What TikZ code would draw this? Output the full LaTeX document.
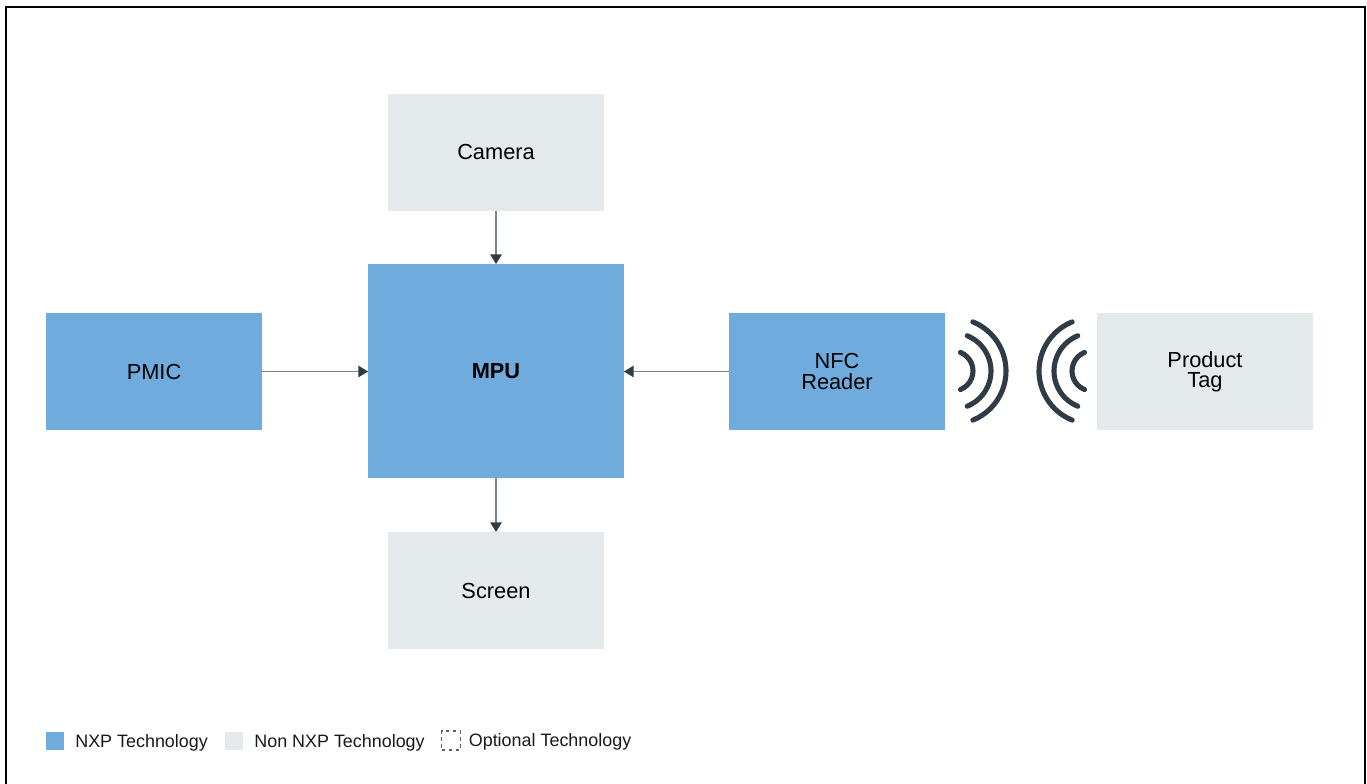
\documentclass[tikz,border=0pt]{standalone}
\usepackage{fontspec}
\setmainfont{Liberation Sans}
\usetikzlibrary{arrows.meta,positioning}
\definecolor{nxpblue}{HTML}{6FACDD}
\definecolor{nonnxp}{HTML}{E4E9EC}
\definecolor{linkgrey}{HTML}{7D858C}
\definecolor{tipgrey}{HTML}{2F3B45}
\definecolor{wavegrey}{HTML}{2F3B45}

\tikzset{
  block/.style={minimum width=4.32cm, minimum height=2.34cm, inner sep=0pt, outer sep=0pt,
    align=center, font=\fontsize{12.4}{11.4}\selectfont},
  nxp/.style={block, fill=nxpblue},
  other/.style={block, fill=nonnxp},
  link/.style={draw=linkgrey, line width=0.8pt, -{Triangle[length=5.5pt,width=6.5pt,color=tipgrey]}},
  wave/.style={draw=wavegrey, line width=2.9pt, line cap=round},
  legbox/.style={minimum width=0.36cm, minimum height=0.36cm, inner sep=0pt, outer sep=0pt},
  legtext/.style={inner sep=0pt, anchor=west, font=\fontsize{10.2}{11}\selectfont, text=black!90}
}

\begin{document}
\begin{tikzpicture}[x=0.02cm, y=-0.02cm]
    \useasboundingbox (0,0) rectangle (1367,784);
    % frame
    \draw[line width=1.3pt] (6,784) -- (6,7) -- (1365,7) -- (1365,784);

    % blocks
    \node[other] (camera) at (496,152.5) {Camera};
    \node[nxp, minimum width=5.12cm, minimum height=4.28cm, font=\fontsize{12.4}{14}\selectfont\bfseries] (mpu) at (496,371) {MPU};
    \node[other] (screen) at (496,590.5) {Screen};
    \node[nxp] (pmic) at (154,371.5) {PMIC};
    \node[nxp] (nfc) at (837,371.5) {NFC\\Reader};
    \node[other] (tag) at (1205,371.5) {Product\\Tag};

    % connectors
    \draw[link] (camera) -- (mpu);
    \draw[link] (pmic) -- (pmic -| mpu.west);
    \draw[link] (nfc) -- (nfc -| mpu.east);
    \draw[link] (mpu) -- (screen);

    % radio waves
    \coordinate (wl) at (953,371);
    \coordinate (wr) at (1092,371);
    \foreach \r in {20,38,53} {
      \draw[wave] ([shift={(-68:\r)}]wl) arc[start angle=-68, end angle=68, radius=\r];
      \draw[wave] ([shift={(112:\r)}]wr) arc[start angle=112, end angle=248, radius=\r];
    }

    % legend
    \node[legbox, fill=nxpblue] (lnxp) at (55,741) {};
    \node[legtext, right=0.22cm of lnxp, yshift=-1pt] (tnxp) {NXP Technology};
    \node[legbox, fill=nonnxp] (lother) at (234,741) {};
    \node[legtext, right=0.22cm of lother, yshift=-1pt] (tother) {Non NXP Technology};
    \node[legbox, minimum width=0.38cm, minimum height=0.38cm, draw=tipgrey!80, line width=0.6pt,
      dash pattern=on 2pt off 2pt] (lopt) at (451,740.5) {};
    \node[legtext, right=0.16cm of lopt, yshift=-1pt] (topt) {Optional Technology};
  \end{tikzpicture}
\end{document}
